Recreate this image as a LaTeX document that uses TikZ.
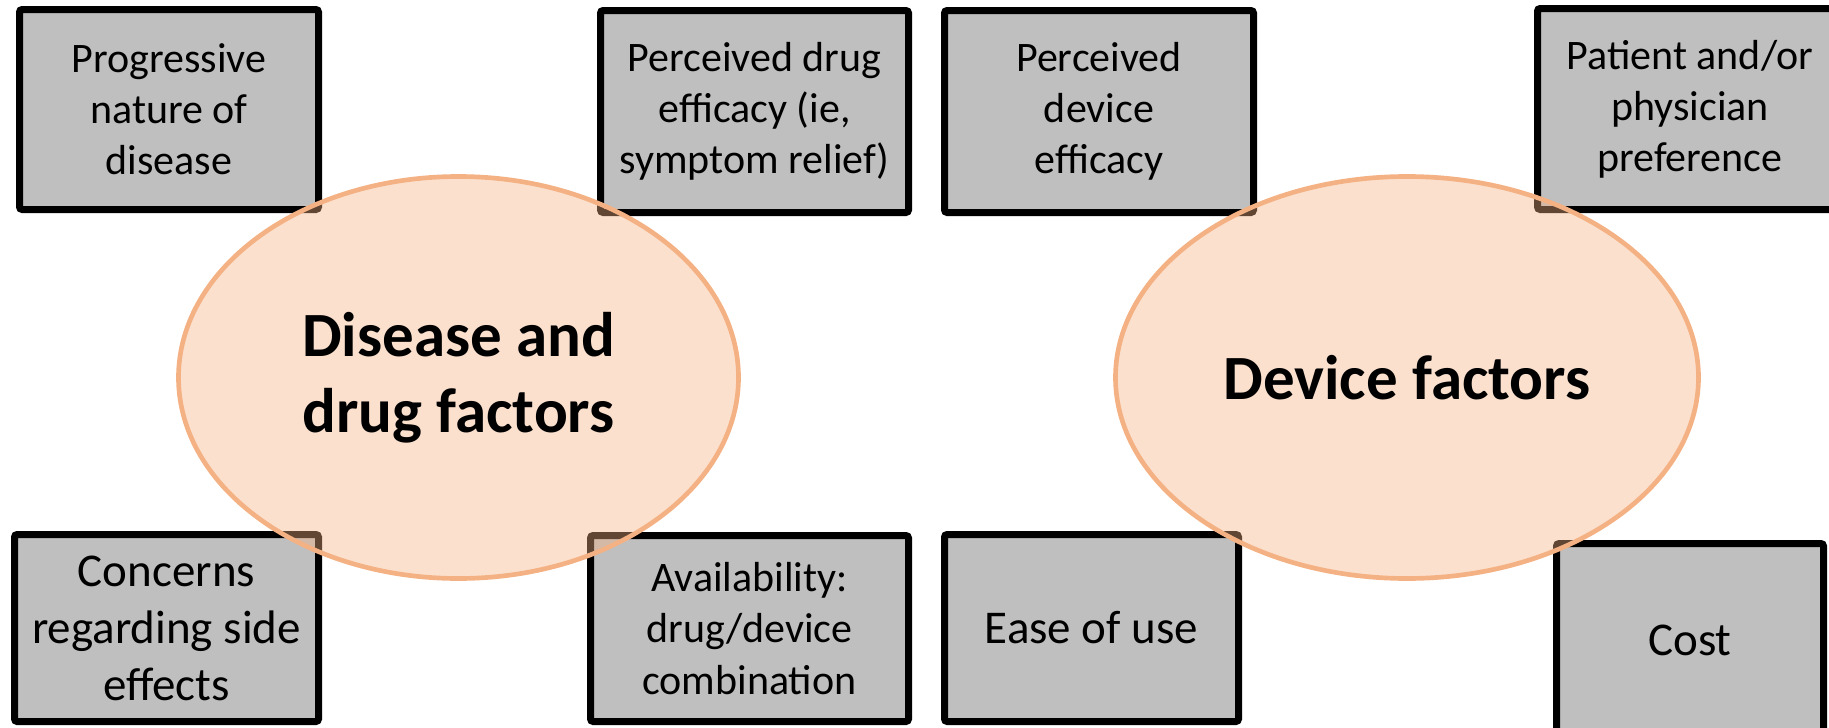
\documentclass[tikz,border=0pt]{standalone}
\usepackage{fontspec}
\setmainfont{Carlito}
\usetikzlibrary{shapes.geometric}
\definecolor{boxgray}{HTML}{BFBFBF}
\definecolor{peach}{HTML}{F4B183}
\tikzset{
  factorbox/.style={draw=black, line width=5.25pt, fill=boxgray, rounded corners=2pt,
    align=center, inner sep=0pt, outer sep=0pt, text=black,
    font=\fontsize{31.5}{38.3}\selectfont},
  bigbox/.style={factorbox, font=\fontsize{35.25}{42.75}\selectfont},
  cloud/.style={ellipse, draw=peach, line width=3.5pt, fill=peach, fill opacity=0.4,
    draw opacity=1, text opacity=1, inner sep=0pt, outer sep=0pt, align=center,
    minimum height=301.5pt, font=\bfseries\fontsize{47.25}{57}\selectfont}
}
\begin{document}
\begin{tikzpicture}[x=0.75pt,y=-0.75pt]
\useasboundingbox (0,0) rectangle (1829,728);
\clip (0,0) rectangle (1829,728);
% boxes
\node[factorbox, minimum width=224.25pt, minimum height=150pt] (prog) at (169,109.5)
  {Progressive\\nature of\\disease};
\node[factorbox, minimum width=231pt, minimum height=151.5pt] (drugeff) at (754.5,111.5)
  {Perceived drug\\efficacy (ie,\\symptom relief)};
\node[factorbox, minimum width=231.75pt, minimum height=151.5pt] (deveff) at (1099,111.5)
  {Perceived\\device\\efficacy};
\node[factorbox, minimum width=228.75pt, minimum height=150.75pt] (pref) at (1690,109)
  {Patient and/or\\physician\\preference};
\node[bigbox, minimum width=228pt, minimum height=140.25pt] (side) at (166.5,628)
  {Concerns\\regarding side\\effects};
\node[factorbox, minimum width=238.5pt, minimum height=139.5pt] (avail) at (749.5,628.5)
  {Availability:\\drug/device\\combination};
\node[bigbox, minimum width=220.5pt, minimum height=140.25pt] (ease) at (1091.5,628)
  {Ease of use};
\node[bigbox, minimum width=200.25pt, minimum height=144.75pt] (cost) at (1690,640)
  {Cost};
% ellipses
\node[cloud, minimum width=420pt] (disease) at (458.5,377.5)
  {Disease and\\drug factors};
\node[cloud, minimum width=437.25pt] (device) at (1407,377.5)
  {Device factors};
\end{tikzpicture}
\end{document}
